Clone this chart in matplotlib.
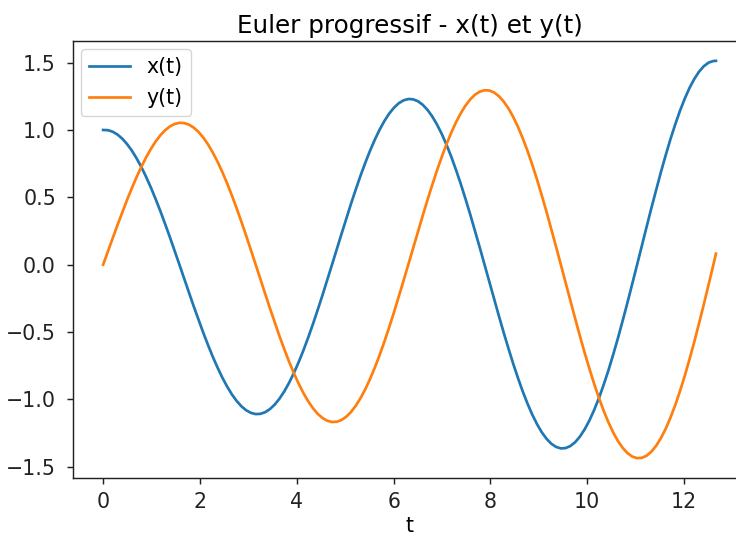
import matplotlib
matplotlib.use("Agg")
import matplotlib.pyplot as plt

# values (Euler progressif, spiralling outward)
t = [0.0, 0.098, 0.197, 0.295, 0.394, 0.492, 0.591, 0.689, 0.788, 0.886,
     0.985, 1.083, 1.182, 1.280, 1.379, 1.477, 1.576, 1.674, 1.773, 1.871,
     1.970, 2.068, 2.167, 2.265, 2.364, 2.462, 2.561, 2.659, 2.758, 2.856,
     2.955, 3.053, 3.152, 3.250, 3.349, 3.447, 3.546, 3.644, 3.743, 3.841,
     3.940, 4.038, 4.137, 4.235, 4.334, 4.432, 4.531, 4.629, 4.728, 4.826,
     4.925, 5.023, 5.121, 5.220, 5.318, 5.417, 5.515, 5.614, 5.712, 5.811,
     5.909, 6.008, 6.106, 6.205, 6.303, 6.402, 6.500, 6.599, 6.697, 6.796,
     6.894, 6.993, 7.091, 7.190, 7.288, 7.387, 7.485, 7.584, 7.682, 7.781,
     7.879, 7.978, 8.076, 8.175, 8.273, 8.372, 8.470, 8.569, 8.667, 8.766,
     8.864, 8.963, 9.061, 9.160, 9.258, 9.357, 9.455, 9.554, 9.652, 9.751,
     9.849, 9.947, 10.046, 10.144, 10.243, 10.341, 10.440, 10.538, 10.637, 10.735,
     10.834, 10.932, 11.031, 11.129, 11.228, 11.326, 11.425, 11.523, 11.622, 11.720,
     11.819, 11.917, 12.016, 12.114, 12.213, 12.311, 12.410, 12.508, 12.607, 12.660]

x = [1.000, 0.9984, 0.9872, 0.9663, 0.9359, 0.8963, 0.8478, 0.7907, 0.7256, 0.6531,
     0.5738, 0.4885, 0.3978, 0.3027, 0.2041, 0.1029, 0.0, -0.1036, -0.2068, -0.3087,
     -0.4082, -0.5045, -0.5965, -0.6833, -0.7641, -0.8380, -0.9043, -0.9623, -1.0114, -1.0509,
     -1.0806, -1.1000, -1.1089, -1.1071, -1.0947, -1.0715, -1.0378, -0.9939, -0.9401, -0.8768,
     -0.8046, -0.7242, -0.6363, -0.5417, -0.4411, -0.3357, -0.2264, -0.1141, 0.0, 0.1148,
     0.2293, 0.3423, 0.4527, 0.5594, 0.6615, 0.7577, 0.8473, 0.9293, 1.0028, 1.0671,
     1.1215, 1.1654, 1.1983, 1.2198, 1.2297, 1.2277, 1.2139, 1.1882, 1.1509, 1.1021,
     1.0425, 0.9723, 0.8923, 0.8031, 0.7056, 0.6006, 0.4892, 0.3723, 0.2510, 0.1265,
     0.0, -0.1273, -0.2543, -0.3796, -0.5020, -0.6204, -0.7335, -0.8403, -0.9396, -1.0305,
     -1.1121, -1.1833, -1.2437, -1.2923, -1.3288, -1.3527, -1.3636, -1.3614, -1.3461, -1.3176,
     -1.2762, -1.2222, -1.1560, -1.0782, -0.9894, -0.8906, -0.7825, -0.6661, -0.5425, -0.4128,
     -0.2783, -0.1403, 0.0, 0.1412, 0.2820, 0.4209, 0.5567, 0.6879, 0.8134, 0.9318,
     1.0419, 1.1427, 1.2332, 1.3122, 1.3791, 1.4330, 1.4735, 1.5000, 1.5121, 1.5130]

y = [0.0, 0.0983, 0.1964, 0.2931, 0.3877, 0.4791, 0.5665, 0.6489, 0.7256, 0.7958,
     0.8588, 0.9138, 0.9604, 0.9980, 1.0262, 1.0446, 1.0530, 1.0514, 1.0395, 1.0175,
     0.9856, 0.9438, 0.8927, 0.8326, 0.7641, 0.6878, 0.6043, 0.5144, 0.4189, 0.3188,
     0.2150, 0.1083, 0.0, -0.1090, -0.2178, -0.3250, -0.4299, -0.5313, -0.6282, -0.7196,
     -0.8046, -0.8825, -0.9523, -1.0133, -1.0650, -1.1067, -1.1379, -1.1584, -1.1677, -1.1659,
     -1.1527, -1.1283, -1.0929, -1.0466, -0.9900, -0.9233, -0.8473, -0.7627, -0.6701, -0.5704,
     -0.4646, -0.3535, -0.2384, -0.1201, 0.0, 0.1209, 0.2415, 0.3604, 0.4767, 0.5891,
     0.6966, 0.7979, 0.8923, 0.9786, 1.0560, 1.1237, 1.1810, 1.2272, 1.2619, 1.2845,
     1.2949, 1.2928, 1.2783, 1.2512, 1.2119, 1.1606, 1.0978, 1.0239, 0.9396, 0.8457,
     0.7431, 0.6325, 0.5151, 0.3920, 0.2643, 0.1332, 0.0, -0.1341, -0.2678, -0.3997,
     -0.5286, -0.6533, -0.7724, -0.8849, -0.9894, -1.0852, -1.1711, -1.2461, -1.3096, -1.3609,
     -1.3993, -1.4244, -1.4359, -1.4337, -1.4175, -1.3875, -1.3439, -1.2870, -1.2173, -1.1354,
     -1.0419, -0.9378, -0.8240, -0.7014, -0.5713, -0.4347, -0.2931, -0.1477, 0.0, 0.082]

fs = 1.48  # text scale of the original notebook figure
ls = 1.3   # line scale
plt.rcParams['font.size'] = 10 * fs

fig = plt.figure(figsize=(7.36, 5.4), dpi=100)
ax = fig.add_axes([72.5 / 736, 1 - 478 / 540, (746.6 - 72.5) / 736, (478 - 41) / 540])

ax.plot(t, x, label='x(t)', color='#1f77b4', linewidth=1.5 * ls)
ax.plot(t, y, label='y(t)', color='#ff7f0e', linewidth=1.5 * ls)
ax.set_title('Euler progressif - x(t) et y(t)', fontsize=12 * fs, pad=4 * fs)
ax.set_xlabel('t', labelpad=2 * fs)
ax.tick_params(length=3.5 * ls, width=0.8 * ls, colors='#222222')
ax.tick_params(axis='x', pad=3.5 * fs)
ax.tick_params(axis='y', pad=5 * fs)
for sp in ax.spines.values():
    sp.set_linewidth(0.8 * ls)
    sp.set_color('#222222')
ax.legend(loc='upper left', borderaxespad=0.4)

fig.savefig('out.png', dpi=100)
